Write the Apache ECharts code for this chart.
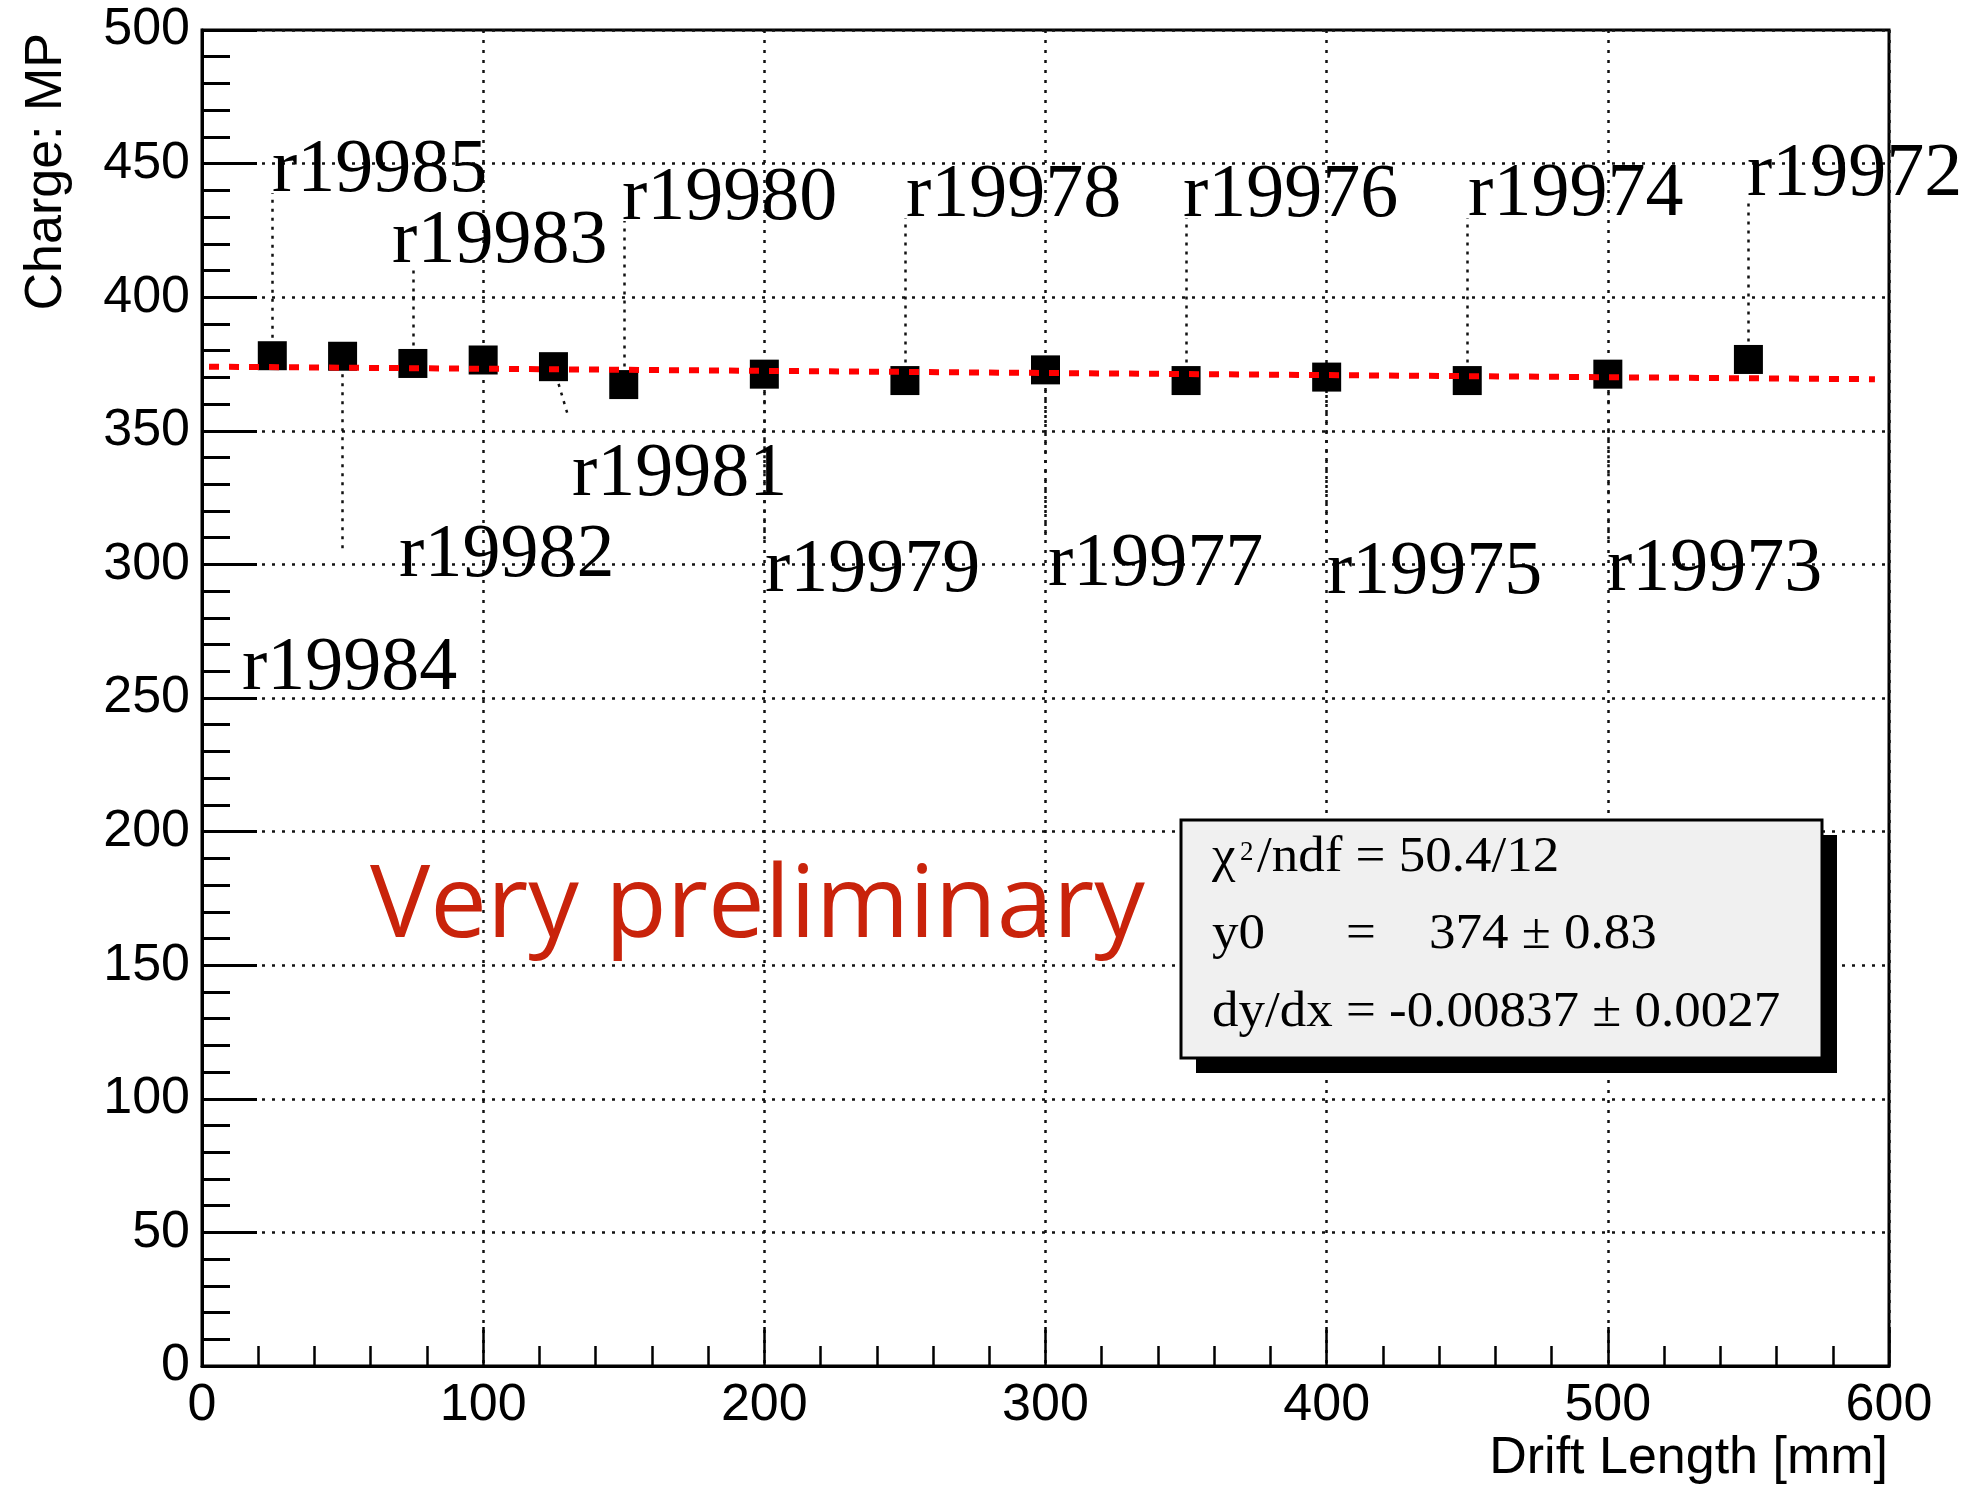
<!DOCTYPE html>
<html>
<head>
<meta charset="utf-8">
<script src="https://cdn.jsdelivr.net/npm/echarts@6/dist/echarts.min.js"></script>
<style>
html,body{margin:0;padding:0;background:#fff;}
#chart{width:1974px;height:1488px;}
</style>
</head>
<body>
<div id="chart"></div>
<script>
// ---- data ----
const driftX = [25, 50, 75, 100, 125, 150, 200, 250, 300, 350, 400, 450, 500, 550];
const charge = [378.1, 377.9, 375.2, 376.5, 374.0, 367.3, 371.2, 368.8, 372.8, 368.8, 370.1, 368.8, 371.2, 376.7];
const runNames = ['r19985', 'r19984', 'r19983', 'r19982', 'r19981', 'r19980', 'r19979', 'r19978', 'r19977', 'r19976', 'r19975', 'r19974', 'r19973', 'r19972'];
// label anchors (left edge, vertical middle), in data units
const labelX = [24.9, 14.2, 67.6, 70.1, 131.6, 149.4, 200.2, 250.4, 300.9, 348.9, 400.1, 450.3, 499.7, 549.5];
const labelY = [447.1, 260.7, 420.8, 303.3, 333.6, 436.7, 297.5, 437.8, 299.6, 437.8, 296.6, 438.2, 297.7, 445.8];
// connector end points (from each marker), in data units; null = none
const linkEndX = [25, 50, 75, null, 130.2, 150, 200, 250, 300, 350, 400, 450, 500, 550];
const linkEndY = [439, 305, 412, null, 355.6, 428.5, 309, 429.6, 311, 429.6, 308, 429.6, 309, 437];
// straight-line fit drawn over the range
const fitX = [2.5, 595];
const fitY = [374.0, 369.3];
// fit statistics text
const statChi = '50.4/12';
const statY0 = '374 \u00b1 0.83';
const statSlope = 'dy/dx = -0.00837 \u00b1 0.0027';

// ---- build ----
const points = driftX.map((x, i) => [x, charge[i]]);
const labelPts = labelX.map((x, i) => ({ value: [x, labelY[i]], name: runNames[i] }));
const links = [];
driftX.forEach((x, i) => {
  if (linkEndX[i] !== null) links.push({ coords: [[x, charge[i]], [linkEndX[i], linkEndY[i]]] });
});
const fitLine = fitX.map((x, i) => [x, fitY[i]]);

const chart = echarts.init(document.getElementById('chart'), null, { renderer: 'canvas' });
const serif = '"Liberation Serif", "Times New Roman", serif';
const sans = '"Liberation Sans", Arial, Helvetica, sans-serif';
const statFont = '50px ' + serif;

const option = {
  animation: false,
  backgroundColor: '#ffffff',
  grid: { left: 202, right: 85, top: 30, bottom: 122, show: true, borderColor: '#000', borderWidth: 3, backgroundColor: 'transparent' },
  xAxis: {
    type: 'value', min: 0, max: 600, interval: 100,
    axisLine: { show: true, onZero: false, lineStyle: { color: '#000', width: 3 } },
    axisTick: { show: true, inside: true, length: 39, lineStyle: { color: '#000', width: 2.5 } },
    minorTick: { show: true, splitNumber: 5, length: 20, lineStyle: { color: '#000', width: 2.5 } },
    axisLabel: { color: '#000', fontSize: 52, fontFamily: sans, margin: 14 },
    splitLine: { show: true, lineStyle: { color: '#111', width: 2.5, type: [3, 7] } }
  },
  yAxis: {
    type: 'value', min: 0, max: 500, interval: 50,
    axisLine: { show: true, onZero: false, lineStyle: { color: '#000', width: 3 } },
    axisTick: { show: true, inside: true, length: 55, lineStyle: { color: '#000', width: 3 } },
    minorTick: { show: true, splitNumber: 5, length: 28, lineStyle: { color: '#000', width: 3 } },
    axisLabel: { color: '#000', fontSize: 52, fontFamily: sans, margin: 12 },
    splitLine: { show: true, lineStyle: { color: '#111', width: 2.5, type: [3, 7] } }
  },
  series: [
    {
      type: 'lines', coordinateSystem: 'cartesian2d', silent: true, z: 2,
      lineStyle: { color: '#111', width: 2.5, type: [3, 6], opacity: 1, curveness: 0 },
      data: links
    },
    {
      type: 'scatter', name: 'Charge', z: 3, symbol: 'rect', symbolSize: 29,
      itemStyle: { color: '#000', opacity: 1 }, data: points
    },
    {
      type: 'line', name: 'fit', z: 4, symbol: 'none', showSymbol: false,
      lineStyle: { color: '#ff0000', width: 6, type: [10, 10], opacity: 1 },
      data: fitLine
    },
    {
      type: 'scatter', name: 'runs', z: 5, symbolSize: 0, clip: false, silent: true,
      itemStyle: { opacity: 1 },
      label: {
        show: true, position: 'right', distance: 0,
        formatter: p => p.name,
        color: '#000', fontSize: 76, fontFamily: serif
      },
      labelLayout: { hideOverlap: false },
      data: labelPts
    }
  ],
  graphic: [
    // axis titles
    { type: 'text', x: 47, y: 33, rotation: Math.PI / 2, z: 10,
      style: { text: 'Charge: MP', font: '52px ' + sans, fill: '#000', align: 'right', verticalAlign: 'middle' } },
    { type: 'text', x: 1888, y: 1459, z: 10,
      style: { text: 'Drift Length [mm]', font: '52px ' + sans, fill: '#000', align: 'right', verticalAlign: 'middle' } },
    // annotation
    { type: 'text', x: 370, y: 908, z: 10,
      style: { text: 'Very preliminary', font: '101px "Open Sans", sans-serif', fill: '#c9230b', align: 'left', verticalAlign: 'middle' } },
    // stats box
    { type: 'rect', z: 20, shape: { x: 1196, y: 835, width: 641, height: 238 }, style: { fill: '#000' } },
    { type: 'rect', z: 21, shape: { x: 1181, y: 820, width: 641, height: 238 }, style: { fill: '#f0f0f0', stroke: '#000', lineWidth: 3 } },
    { type: 'text', z: 22, x: 1212, y: 858, scaleX: 1.06, style: { text: '\u03c7', font: statFont, fill: '#000', align: 'left', verticalAlign: 'middle' } },
    { type: 'text', z: 22, x: 1240, y: 853, style: { text: '2', font: '27px ' + serif, fill: '#000', align: 'left', verticalAlign: 'middle' } },
    { type: 'text', z: 22, x: 1257, y: 858, scaleX: 1.06, style: { text: '/ndf = ' + statChi, font: statFont, fill: '#000', align: 'left', verticalAlign: 'middle' } },
    { type: 'text', z: 22, x: 1212, y: 935, scaleX: 1.06, style: { text: 'y0', font: statFont, fill: '#000', align: 'left', verticalAlign: 'middle' } },
    { type: 'text', z: 22, x: 1346, y: 935, scaleX: 1.06, style: { text: '=', font: statFont, fill: '#000', align: 'left', verticalAlign: 'middle' } },
    { type: 'text', z: 22, x: 1429, y: 935, scaleX: 1.06, style: { text: statY0, font: statFont, fill: '#000', align: 'left', verticalAlign: 'middle' } },
    { type: 'text', z: 22, x: 1212, y: 1013, scaleX: 1.06, style: { text: statSlope, font: statFont, fill: '#000', align: 'left', verticalAlign: 'middle' } }
  ]
};
chart.setOption(option);
</script>
</body>
</html>
